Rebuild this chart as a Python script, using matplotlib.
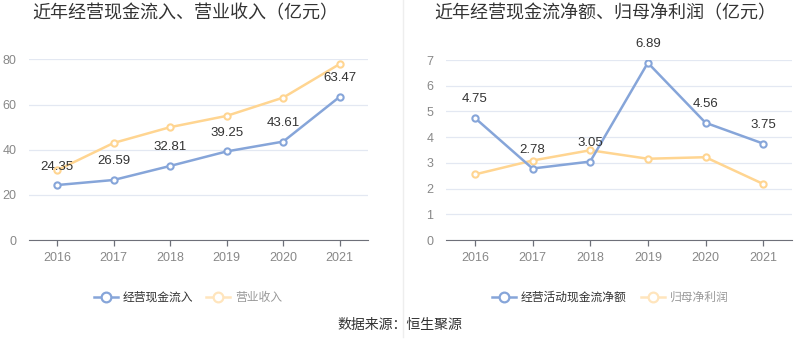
import matplotlib.pyplot as plt
from matplotlib.lines import Line2D

plt.rcParams['font.family'] = ['Noto Sans CJK SC', 'DejaVu Sans']

years = ['2016', '2017', '2018', '2019', '2020', '2021']

# left chart
cash_in = [24.35, 26.59, 32.81, 39.25, 43.61, 63.47]
revenue = [30.9, 43.0, 50.0, 55.0, 63.1, 78.0]

# right chart
cash_net = [4.75, 2.78, 3.05, 6.89, 4.56, 3.75]
net_profit = [2.55, 3.09, 3.49, 3.16, 3.22, 2.18]

BLUE = '#86A5D9'
ORANGE = '#FFD591'
GRID = '#E3E8F2'
NUM = 'Liberation Sans'


def draw(ax, a, b, ymax, step, fmt):
    x = list(range(len(years)))
    ax.plot(x, b, color=ORANGE, lw=1.8, marker='o', ms=4.5, mfc='white',
            mec=ORANGE, mew=1.5, zorder=3)
    ax.plot(x, a, color=BLUE, lw=1.8, marker='o', ms=4.5, mfc='white',
            mec=BLUE, mew=1.5, zorder=4)
    for xi, v in zip(x, a):
        ax.annotate(fmt(v), (xi, v), xytext=(0, 9), textcoords='offset points',
                    ha='center', va='bottom', fontsize=9.5, color='#333333',
                    family=NUM, zorder=5)
    ax.set_xlim(-0.5, len(years) - 0.5)
    ax.set_ylim(0, ymax)
    ax.set_yticks([i * step for i in range(int(ymax / step) + 1)])
    ax.set_xticks(x)
    ax.set_xticklabels(years)
    ax.grid(axis='y', color=GRID, lw=0.9)
    ax.set_axisbelow(True)
    for s in ['top', 'right', 'left']:
        ax.spines[s].set_visible(False)
    ax.spines['bottom'].set_color('#6E7079')
    ax.tick_params(axis='x', colors='#6E7079', length=4.5, width=0.9,
                   labelcolor='#888888', labelsize=9, pad=4)
    ax.tick_params(axis='y', length=0, labelcolor='#888888', labelsize=9, pad=9)
    for lab in ax.get_xticklabels() + ax.get_yticklabels():
        lab.set_family(NUM)


fig = plt.figure(figsize=(8, 3.58), dpi=100)

ax1 = fig.add_axes([0.036, 0.3296, 0.424, 0.5043])
draw(ax1, cash_in, revenue, 80, 20, lambda v: f'{v:.2f}')

ax2 = fig.add_axes([0.5575, 0.3296, 0.4325, 0.5028])
draw(ax2, cash_net, net_profit, 7, 1, lambda v: f'{v:.2f}')

fig.text(0.231, 0.962, '近年经营现金流入、营业收入（亿元）', ha='center', va='center',
         fontsize=13, color='#333333')
fig.text(0.757, 0.962, '近年经营现金流净额、归母净利润（亿元）', ha='center', va='center',
         fontsize=13, color='#333333')

# separator
fig.add_artist(Line2D([0.504, 0.504], [0.06, 1.0], color='#EEEEEE', lw=1))


def legend_item(x, label, color, tcolor):
    fig.add_artist(Line2D([x, x + 0.03], [0.17, 0.17], color=color, lw=1.8))
    fig.add_artist(Line2D([x + 0.015], [0.17], marker='o', ms=7, mfc='white',
                          mec=color, mew=1.6, color=color))
    fig.text(x + 0.036, 0.17, label, ha='left', va='center', fontsize=8.5,
             color=tcolor)


legend_item(0.117, '经营现金流入', BLUE, '#333333')
legend_item(0.258, '营业收入', '#FFE5BD', '#999999')
legend_item(0.615, '经营活动现金流净额', BLUE, '#333333')
legend_item(0.801, '归母净利润', '#FFE5BD', '#999999')

fig.text(0.5, 0.092, '数据来源：恒生聚源', ha='center', va='center', fontsize=10,
         color='#333333')

fig.savefig('out.png', dpi=100)
